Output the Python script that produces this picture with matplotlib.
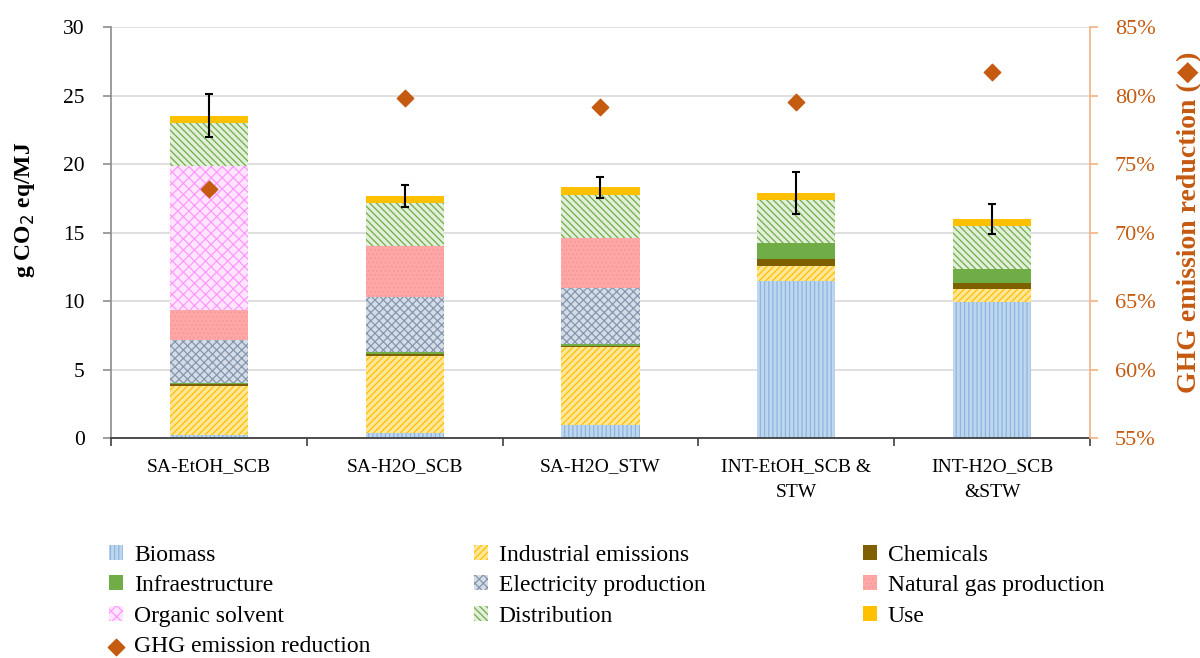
import matplotlib
matplotlib.use("Agg")
import matplotlib.pyplot as plt
import numpy as np

plt.rcParams.update({
    "font.family": ["Liberation Serif", "DejaVu Serif"],
    "font.size": 14,
    "hatch.linewidth": 0.9,
})

scenarios = ["SA-EtOH_SCB", "SA-H2O_SCB", "SA-H2O_STW",
             "INT-EtOH_SCB &\nSTW", "INT-H2O_SCB\n&STW"]

# contributions in g CO2 eq/MJ, one list per life-cycle stage
biomass = [0.25, 0.35, 0.95, 11.45, 9.95]
industrial = [3.55, 5.63, 5.67, 1.12, 0.93]
chemicals = [0.15, 0.15, 0.12, 0.53, 0.48]
infrastructure = [0.10, 0.17, 0.17, 1.17, 0.95]
electricity = [3.10, 4.01, 4.04, 0.0, 0.0]
natural_gas = [2.24, 3.68, 3.67, 0.0, 0.0]
organic_solvent = [10.46, 0.0, 0.0, 0.0, 0.0]
distribution = [3.12, 3.14, 3.12, 3.09, 3.16]
use = [0.56, 0.53, 0.56, 0.53, 0.52]
total_err = [1.55, 0.80, 0.78, 1.52, 1.10]

# GHG emission reduction (%) on the secondary axis
ghg_reduction = [73.15, 79.84, 79.14, 79.50, 81.74]

stages = [
    ("Biomass", biomass, "#BDD7EE", "#8FB4E0", "||||"),
    ("Industrial emissions", industrial, "#FFE699", "#FFC000", "/////"),
    ("Chemicals", chemicals, "#7F6000", "#7F6000", None),
    ("Infraestructure", infrastructure, "#70AD47", "#70AD47", None),
    ("Electricity production", electricity, "#D6DCE5", "#8497B0", "xxxx"),
    ("Natural gas production", natural_gas, "#FFA7A7", "#F59A9A", "...."),
    ("Organic solvent", organic_solvent, "#FFE5FF", "#FF99FF", "xxx"),
    ("Distribution", distribution, "#E2EFDA", "#70AD47", "\\\\\\\\\\"),
    ("Use", use, "#FFC000", "#FFC000", None),
]

orange = "#C55A11"
light_orange = "#F4B183"
axis_grey = "#8C8C8C"

fig = plt.figure(figsize=(12, 6.58), dpi=100)
ax = fig.add_axes([0.0925, 0.334, 0.8158, 0.625])
x = np.arange(len(scenarios))
width = 0.40

bottom = np.zeros(len(scenarios))
handles = {}
for name, vals, face, hatch_col, hatch in stages:
    vals = np.array(vals)
    h = ax.bar(x, vals, width, bottom=bottom, color=face, edgecolor=hatch_col,
               hatch=hatch, linewidth=0, label=name, zorder=2)
    handles[name] = h
    bottom += vals

ax.errorbar(x, bottom, yerr=total_err, fmt="none", ecolor="black",
            elinewidth=1.5, capsize=3, capthick=1.5, zorder=4)

ax.set_xlim(-0.5, len(scenarios) - 0.5)
ax.set_ylim(0, 30)
ax.set_yticks(range(0, 31, 5))
ax.grid(True, axis="y", color="#D9D9D9", linewidth=1.2, zorder=0)
ax.set_axisbelow(True)
for side in ("top", "right"):
    ax.spines[side].set_visible(False)
ax.spines["left"].set_color(axis_grey)
ax.spines["left"].set_linewidth(1.2)
ax.spines["bottom"].set_color("#404040")
ax.spines["bottom"].set_linewidth(1.3)
ax.tick_params(axis="y", length=6, width=1.2, color=axis_grey,
               labelsize=15.5, pad=13)
ax.set_xticks(x)
ax.set_xticklabels(scenarios, fontsize=14, linespacing=1.7)
ax.tick_params(axis="x", length=0, pad=14)
ax.set_xticks(np.arange(len(scenarios) + 1) - 0.5, minor=True)
ax.tick_params(axis="x", which="minor", length=6, width=1.2, color="#404040")
ax.set_ylabel("g CO$_2$ eq/MJ", fontsize=17, fontweight="bold")
ax.yaxis.set_label_coords(-0.076, 0.555)

ax2 = ax.twinx()
ax2.set_ylim(55, 85)
ax2.set_yticks(range(55, 86, 5))
ax2.set_yticklabels([f"{v}%" for v in range(55, 86, 5)])
diam = ax2.scatter(x, ghg_reduction, marker="D", s=70, color=orange, zorder=5,
                   label="GHG emission reduction")
for side in ("left", "top", "bottom"):
    ax2.spines[side].set_visible(False)
ax2.spines["right"].set_color(light_orange)
ax2.spines["right"].set_linewidth(1.2)
ax2.tick_params(axis="y", labelcolor=orange, color=light_orange,
                labelsize=16, length=6, width=1.2, pad=12)
ax2.set_ylabel("GHG emission reduction (\u25c6)", fontsize=20, fontweight="bold",
               color=orange, family=["Liberation Serif", "DejaVu Sans"])
ax2.yaxis.set_label_coords(1.089, 0.525)

# three legend columns laid out beneath the plot
columns = [
    (["Biomass", "Infraestructure", "Organic solvent", "GHG emission reduction"], 0.091),
    (["Industrial emissions", "Electricity production", "Distribution"], 0.395),
    (["Chemicals", "Natural gas production", "Use"], 0.719),
]
handles["GHG emission reduction"] = diam
for names, x0 in columns:
    fig.legend([handles[n] for n in names], names, loc="upper left",
               bbox_to_anchor=(x0, 0.172), frameon=False, fontsize=17,
               handlelength=0.6, handleheight=0.6, handletextpad=0.45,
               labelspacing=0.4, borderaxespad=0, borderpad=0)

fig.savefig("out.png", dpi=100)
